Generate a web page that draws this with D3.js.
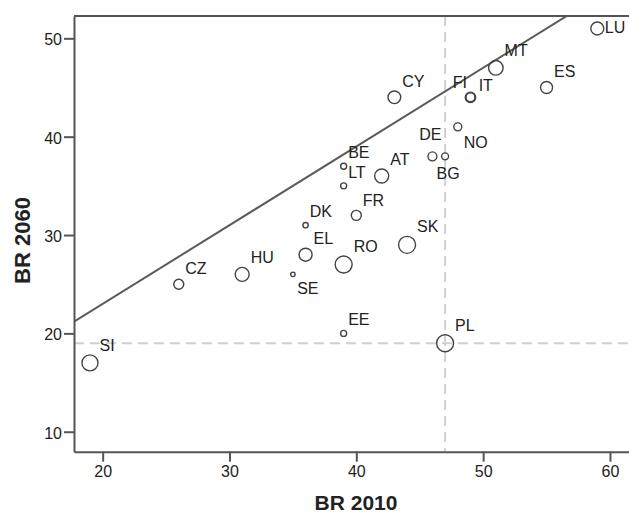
<!DOCTYPE html>
<html>
<head>
<meta charset="utf-8">
<script src="https://cdn.jsdelivr.net/npm/d3@7"></script>
<style>
  html, body { margin: 0; padding: 0; background: #ffffff; }
  svg { display: block; }
  text { font-family: "Liberation Sans", Arial, sans-serif; }
</style>
</head>
<body>
<svg id="chart" width="629" height="516"></svg>
<script>
// ---- data ----
const countries = ["LU","MT","ES","CY","FI","IT","DE","BG","NO","BE","LT","AT","FR","DK","EL","RO","SK","SE","HU","CZ","SI","EE","PL"];
const br2010    = [59, 51, 55, 43, 49, 49, 46, 47, 48, 39, 39, 42, 40, 36, 36, 39, 44, 35, 31, 26, 19, 39, 47];
const br2060    = [51, 47, 45, 44, 44, 44, 38, 38, 41, 37, 35, 36, 32, 31, 28, 27, 29, 26, 26, 25, 17, 20, 19];
const bubbleSize= [42, 53, 36, 40, 20, 27, 20, 12, 16,  9,  9, 49, 25,  7, 42, 72, 72,  5, 49, 25, 64,  9, 72];
const labelPlace= ["e","ne","ne","ne","nw","ene","n","s","se","ne","ne","ne","ne","ne","ne","ne","ne","se","ne","ne","ne","ne","ne"];
const xTicks = [20, 30, 40, 50, 60];
const yTicks = [10, 20, 30, 40, 50];
const xTitle = "BR 2010";
const yTitle = "BR 2060";
const fitIntercept = 7.0;
const fitSlope = 0.8;
const refX = 47;
const refY = 19;

// ---- layout ----
const svg = d3.select("#chart");
const pLeft = 74, pTop = 16, pRight = 629, pBottom = 451.7;
const x = d3.scaleLinear().domain([17.74, 61.5]).range([pLeft, pRight]);
const y = d3.scaleLinear().domain([7.97, 52.27]).range([pBottom, pTop]);
const r = d3.scaleSqrt().domain([0, 72]).range([0, 8.5]);

const axisColor = "#555555";
const textColor = "#222222";

svg.append("defs").append("clipPath").attr("id", "plotclip")
  .append("rect").attr("x", pLeft).attr("y", pTop).attr("width", pRight - pLeft).attr("height", pBottom - pTop);

// reference lines
const refG = svg.append("g").attr("clip-path", "url(#plotclip)");
refG.append("line")
  .attr("x1", x(refX)).attr("x2", x(refX)).attr("y1", pTop).attr("y2", pBottom)
  .attr("stroke", "#d0d0d0").attr("stroke-width", 2).attr("stroke-dasharray", "10,6");
refG.append("line")
  .attr("x1", pLeft).attr("x2", pRight).attr("y1", y(refY)).attr("y2", y(refY))
  .attr("stroke", "#d0d0d0").attr("stroke-width", 2).attr("stroke-dasharray", "10,6");

// fit line
const xd = x.domain();
refG.append("line")
  .attr("x1", x(xd[0])).attr("y1", y(fitIntercept + fitSlope * xd[0]))
  .attr("x2", x(xd[1])).attr("y2", y(fitIntercept + fitSlope * xd[1]))
  .attr("stroke", "#5a5a5a").attr("stroke-width", 2);

// axes
const xAxis = d3.axisBottom(x).tickValues(xTicks).tickSize(10).tickSizeOuter(0).tickFormat(d3.format("d"));
const gx = svg.append("g").attr("transform", `translate(0,${pBottom})`).call(xAxis);
const yAxis = d3.axisLeft(y).tickValues(yTicks).tickSize(10).tickSizeOuter(0).tickFormat(d3.format("d"));
const gy = svg.append("g").attr("transform", `translate(${pLeft},0)`).call(yAxis);
[gx, gy].forEach(g => {
  g.select(".domain").attr("stroke", axisColor).attr("stroke-width", 2);
  g.selectAll(".tick line").attr("stroke", axisColor).attr("stroke-width", 2);
  g.selectAll(".tick text").attr("fill", textColor).attr("font-size", 16)
    .attr("font-family", "'Liberation Sans', Arial, sans-serif");
});
gx.selectAll(".tick text").attr("y", 14).attr("dy", "0.71em");
gy.selectAll(".tick text").attr("x", -12).attr("dy", "0.62em").attr("y", -3.5);
// top border
svg.append("line").attr("x1", pLeft).attr("x2", pRight).attr("y1", pTop).attr("y2", pTop)
  .attr("stroke", axisColor).attr("stroke-width", 2);

// titles
svg.append("text").attr("x", 356).attr("y", 510).attr("text-anchor", "middle")
  .attr("font-size", 21).attr("font-weight", "bold").attr("fill", textColor).text(xTitle);
svg.append("text").attr("transform", `translate(30,240.5) rotate(-90)`).attr("text-anchor", "middle")
  .attr("font-size", 22).attr("font-weight", "bold").attr("fill", textColor).text(yTitle);

// points
const data = countries.map((c, i) => ({ c, x: br2010[i], y: br2060[i], s: bubbleSize[i], p: labelPlace[i] }));
const pts = svg.append("g");
pts.selectAll("circle").data(data).join("circle")
  .attr("cx", d => x(d.x)).attr("cy", d => y(d.y)).attr("r", d => r(d.s))
  .attr("fill", "none").attr("stroke", "#444444").attr("stroke-width", 1.4);

function labelPos(d) {
  const cx = x(d.x), cy = y(d.y), rr = r(d.s);
  switch (d.p) {
    case "e":   return { x: cx + rr + 1, y: cy + 5, a: "start" };
    case "ene": return { x: cx + rr + 3, y: cy - rr * 0.6 - 3, a: "start" };
    case "nw":  return { x: cx - rr + 1, y: cy - rr * 0.75 - 6, a: "end" };
    case "n":   return { x: cx - 2, y: cy - rr - 12, a: "middle" };
    case "s":   return { x: cx + 3, y: cy + rr + 19, a: "middle" };
    case "se":  return { x: cx + rr + 2, y: cy + rr + 17.5, a: "start" };
    default:    return { x: cx + rr + 1.5, y: cy - rr * 0.75 - 6, a: "start" };
  }
}
pts.selectAll("text").data(data).join("text")
  .each(function(d) {
    const p = labelPos(d);
    d3.select(this).attr("x", p.x).attr("y", p.y).attr("text-anchor", p.a);
  })
  .attr("font-size", 16).attr("fill", textColor).text(d => d.c);
</script>
</body>
</html>
